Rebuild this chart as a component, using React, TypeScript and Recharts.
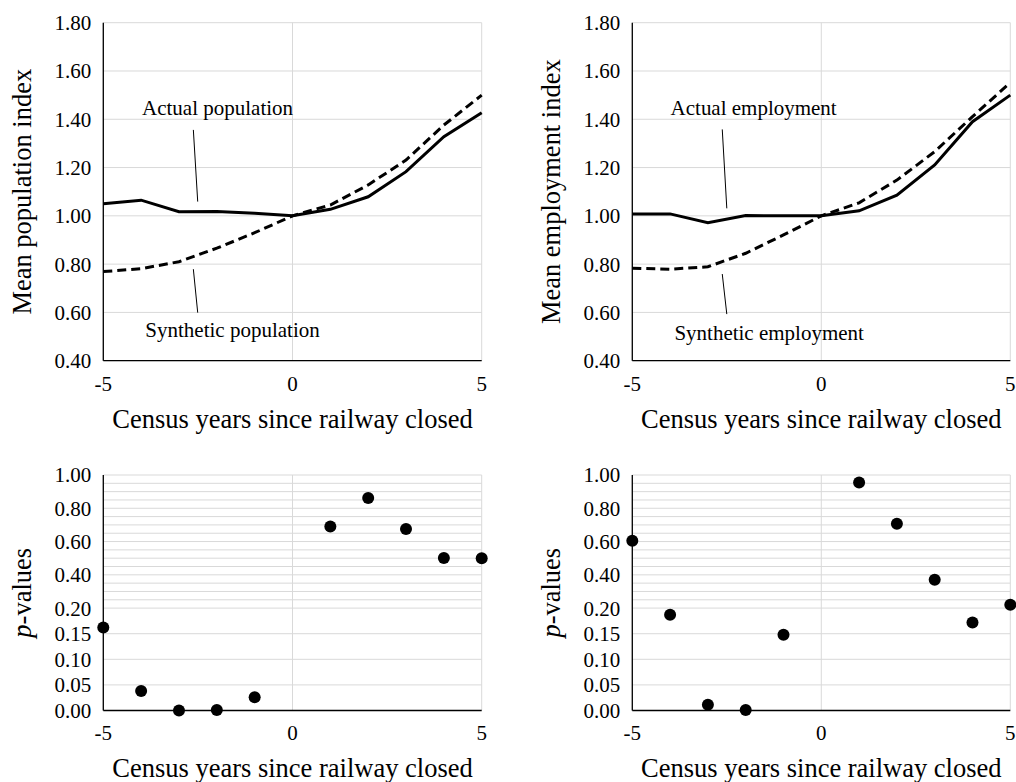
import {
  CartesianGrid,
  Line,
  LineChart,
  ReferenceDot,
  ReferenceLine,
  Scatter,
  ScatterChart,
  XAxis,
  YAxis,
} from "recharts";

const FONT = '"Liberation Serif", "Times New Roman", serif';

// census years relative to closure
const years = [-5, -4, -3, -2, -1, 0, 1, 2, 3, 4, 5];
const yearTicks = [-5, 0, 5];

const actualPopulation = [1.05, 1.065, 1.017, 1.018, 1.011, 1.0, 1.027, 1.079, 1.183, 1.328, 1.427];
const syntheticPopulation = [0.769, 0.781, 0.81, 0.866, 0.93, 1.0, 1.045, 1.128, 1.231, 1.376, 1.5];
const actualEmployment = [1.008, 1.008, 0.972, 1.001, 1.0, 1.0, 1.021, 1.086, 1.211, 1.39, 1.5];
const syntheticEmployment = [0.783, 0.779, 0.789, 0.845, 0.921, 1.0, 1.054, 1.148, 1.266, 1.411, 1.552];
const indexTicks = [0.4, 0.6, 0.8, 1.0, 1.2, 1.4, 1.6, 1.8];

// p-values (no point at year 0)
const pYears = [-5, -4, -3, -2, -1, 1, 2, 3, 4, 5];
const populationPValues = [0.162, 0.038, 0.0, 0.001, 0.026, 0.691, 0.862, 0.675, 0.501, 0.5];
const employmentPValues = [0.605, 0.187, 0.011, 0.001, 0.148, 0.955, 0.707, 0.37, 0.172, 0.22];
const pTicks = [0, 0.05, 0.1, 0.15, 0.2, 0.4, 0.6, 0.8, 1.0];
const pGrid = [
  0.05, 0.1, 0.15, 0.2, 0.25, 0.3, 0.35, 0.4, 0.45, 0.5,
  0.55, 0.6, 0.65, 0.7, 0.75, 0.8, 0.85, 0.9, 0.95, 1.0,
];

// the p-value axis is broken: 0-0.2 is stretched, 0.2-1.0 compressed
const UPPER = 1.3; // height of a 0.2 step above 0.2, in units of a 0.05 step below it
const toAxis = (p: number) => (p <= 0.2 ? p / 0.05 : 4 + ((p - 0.2) / 0.2) * UPPER);
const fromAxis = (v: number) => (v <= 4 ? v * 0.05 : 0.2 + ((v - 4) / UPPER) * 0.2);

const tickStyle = { fontSize: 21, fill: "#000", fontFamily: FONT };
const axisLine = { stroke: "#000", strokeWidth: 1.3 };
const GRID = "#d9d9d9";
const Y_AXIS_W = 103.3;

function xTitle(cx: number, baseline: number) {
  return () => (
    <text x={cx} y={baseline} textAnchor="middle" fontSize={26.5} fontFamily={FONT} fill="#000">
      Census years since railway closed
    </text>
  );
}

function yTitle(cy: number, content: any) {
  return () => (
    <text
      x={31}
      y={cy}
      transform={`rotate(-90, 31, ${cy})`}
      textAnchor="middle"
      fontSize={26.5}
      fontFamily={FONT}
      fill="#000"
    >
      {content}
    </text>
  );
}

function noteText(text: string) {
  return (p: any) => (
    <text x={p.cx} y={p.cy} textAnchor="middle" fontSize={21} fontFamily={FONT} fill="#000">
      {text}
    </text>
  );
}

type Note = { text: string; x: number; y: number; seg: [number, number, number, number] };

type IndexProps = {
  left: number;
  width: number;
  right: number;
  actual: number[];
  synthetic: number[];
  title: string;
  upper: Note;
  lower: Note;
};

function IndexPanel({ left, width, right, actual, synthetic, title, upper, lower }: IndexProps) {
  const data = years.map((x, i) => ({ x, actual: actual[i], synthetic: synthetic[i] }));
  const plotCenter = (Y_AXIS_W + width - right) / 2;
  return (
    <div style={{ position: "absolute", left, top: 0 }}>
      <LineChart
        width={width}
        height={440}
        data={data}
        margin={{ top: 22.7, right, bottom: 9.3, left: 0 }}
      >
        <CartesianGrid stroke={GRID} strokeWidth={1} />
        <XAxis
          dataKey="x"
          type="number"
          domain={[-5, 5]}
          ticks={yearTicks}
          interval={0}
          tickLine={false}
          tickSize={0}
          tickMargin={15}
          tick={tickStyle}
          axisLine={axisLine}
          height={70}
          label={xTitle(plotCenter, 427.7)}
        />
        <YAxis
          type="number"
          domain={[0.4, 1.8]}
          ticks={indexTicks}
          interval={0}
          tickFormatter={(v: number) => v.toFixed(2)}
          tickLine={false}
          tickSize={0}
          tickMargin={12}
          tick={tickStyle}
          axisLine={axisLine}
          width={Y_AXIS_W}
          label={yTitle(191.7, title)}
        />
        <Line
          dataKey="synthetic"
          stroke="#000"
          strokeWidth={3}
          strokeDasharray="9 5"
          dot={false}
          isAnimationActive={false}
        />
        <Line dataKey="actual" stroke="#000" strokeWidth={3} dot={false} isAnimationActive={false} />
        <ReferenceLine
          segment={[{ x: upper.seg[0], y: upper.seg[1] }, { x: upper.seg[2], y: upper.seg[3] }]}
          stroke="#000"
          strokeWidth={1}
        />
        <ReferenceLine
          segment={[{ x: lower.seg[0], y: lower.seg[1] }, { x: lower.seg[2], y: lower.seg[3] }]}
          stroke="#000"
          strokeWidth={1}
        />
        <ReferenceDot x={upper.x} y={upper.y} r={0} shape={noteText(upper.text)} />
        <ReferenceDot x={lower.x} y={lower.y} r={0} shape={noteText(lower.text)} />
      </LineChart>
    </div>
  );
}

type PProps = { left: number; width: number; right: number; values: number[] };

function PValuePanel({ left, width, right, values }: PProps) {
  const data = pYears.map((x, i) => ({ x, y: toAxis(values[i]) }));
  const plotCenter = (Y_AXIS_W + width - right) / 2;
  const title = (
    <>
      <tspan fontStyle="italic">p</tspan>-values
    </>
  );
  return (
    <div style={{ position: "absolute", left, top: 440 }}>
      <ScatterChart width={width} height={342} margin={{ top: 35, right, bottom: 1.5, left: 0 }}>
        <CartesianGrid stroke={GRID} strokeWidth={1} horizontalValues={pGrid.map(toAxis)} />
        <XAxis
          dataKey="x"
          type="number"
          domain={[-5, 5]}
          ticks={yearTicks}
          interval={0}
          tickLine={false}
          tickSize={0}
          tickMargin={15}
          tick={tickStyle}
          axisLine={axisLine}
          height={70}
          label={xTitle(plotCenter, 337)}
        />
        <YAxis
          dataKey="y"
          type="number"
          domain={[0, toAxis(1)]}
          ticks={pTicks.map(toAxis)}
          interval={0}
          tickFormatter={(v: number) => fromAxis(v).toFixed(2)}
          tickLine={false}
          tickSize={0}
          tickMargin={12}
          tick={tickStyle}
          axisLine={axisLine}
          width={Y_AXIS_W}
          label={yTitle(152.75, title)}
        />
        <Scatter
          data={data}
          fill="#000"
          isAnimationActive={false}
          shape={(p: any) => <circle cx={p.cx} cy={p.cy} r={6} fill="#000" />}
        />
      </ScatterChart>
    </div>
  );
}

export default function App() {
  return (
    <div
      style={{
        position: "absolute",
        left: 0,
        top: 0,
        width: 1016,
        height: 782,
        background: "#fff",
        overflow: "hidden",
      }}
    >
      <IndexPanel
        left={0}
        width={500}
        right={18.3}
        actual={actualPopulation}
        synthetic={syntheticPopulation}
        title="Mean population index"
        upper={{ text: "Actual population", x: -1.98, y: 1.418, seg: [-2.62, 1.356, -2.505, 1.059] }}
        lower={{ text: "Synthetic population", x: -1.585, y: 0.499, seg: [-2.62, 0.779, -2.505, 0.599] }}
      />
      <IndexPanel
        left={529.4}
        width={486.6}
        right={5.3}
        actual={actualEmployment}
        synthetic={syntheticEmployment}
        title="Mean employment index"
        upper={{ text: "Actual employment", x: -1.79, y: 1.418, seg: [-2.62, 1.358, -2.5, 1.031] }}
        lower={{ text: "Synthetic employment", x: -1.38, y: 0.486, seg: [-2.62, 0.759, -2.5, 0.593] }}
      />
      <PValuePanel left={0} width={500} right={18.3} values={populationPValues} />
      <PValuePanel left={529.4} width={486.6} right={5.3} values={employmentPValues} />
    </div>
  );
}
